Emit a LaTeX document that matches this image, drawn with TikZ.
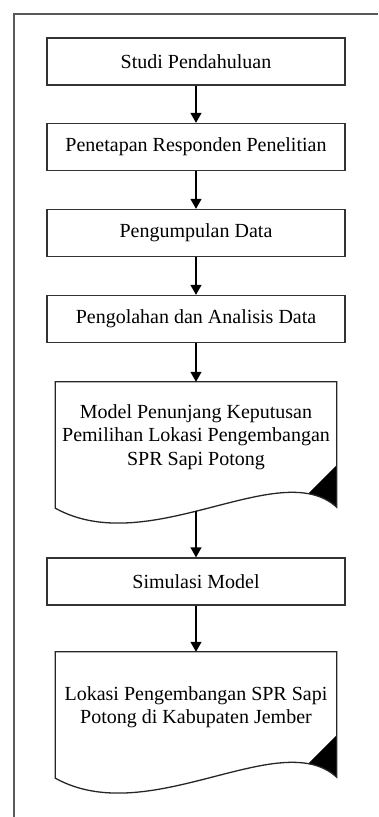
\documentclass[tikz,border=0pt]{standalone}
\usepackage{fontspec}
\setmainfont{Liberation Serif}
\usetikzlibrary{arrows.meta}

\tikzset{
  stepbox/.style={draw=black!80, line width=1.3pt, minimum width=298pt, minimum height=47pt, inner sep=0pt},
  docbox/.style={minimum width=281pt, minimum height=110pt, inner sep=0pt, align=center},
  docline/.style={draw=black!85, line width=1.3pt},
  flow/.style={line width=1.3pt, -{Triangle[width=11pt,length=10pt]}},
}

% document shape round a docbox node: wavy bottom, black corner
\newcommand{\docshape}[1]{%
  \begin{scope}
    \clip (#1.north west) -- (#1.north east) -- ([yshift=-15pt]#1.south east)
      .. controls +(-57pt,52pt) and +(94pt,-52pt) .. ([yshift=-16pt]#1.south west) -- cycle;
    \fill ([yshift=27pt]#1.south east) -- ++(-45pt,-45pt) -- ++(45pt,-45pt) -- cycle;
  \end{scope}
  \draw[docline] (#1.north west) -- (#1.north east) -- ([yshift=-15pt]#1.south east)
    .. controls +(-57pt,52pt) and +(94pt,-52pt) .. ([yshift=-16pt]#1.south west)
    coordinate[pos=0.545] (#1-tail) -- cycle;}

\begin{document}
\begin{tikzpicture}[x=1pt, y=-1pt, font=\fontsize{20pt}{23.5pt}\selectfont]
\useasboundingbox (0,0) rectangle (378,817);

% outer frame, cut off by the page
\draw[line width=1.5pt, black!65] (14,817) -- (14,14) -- (378,14);

\node[stepbox] (b1) at (196,61.5) {Studi Pendahuluan};
\node[stepbox] (b2) at (196,147) {Penetapan Responden Penelitian};
\node[stepbox] (b3) at (196,233) {Pengumpulan Data};
\node[stepbox] (b4) at (196,319) {Pengolahan dan Analisis Data};
\node[docbox] (d1) at (196,437) {Model Penunjang Keputusan\\Pemilihan Lokasi Pengembangan\\SPR Sapi Potong};
\node[stepbox] (b5) at (196,581.5) {Simulasi Model};
\node[docbox] (d2) at (196,707) {Lokasi Pengembangan SPR Sapi\\Potong di Kabupaten Jember};

\docshape{d1}
\docshape{d2}

\draw[flow] (b1) -- (b2);
\draw[flow] (b2) -- (b3);
\draw[flow] (b3) -- (b4);
\draw[flow] (b4) -- (d1);
\draw[flow] (d1-tail -| b5) -- (b5);
\draw[flow] (b5) -- (d2);
\end{tikzpicture}
\end{document}
